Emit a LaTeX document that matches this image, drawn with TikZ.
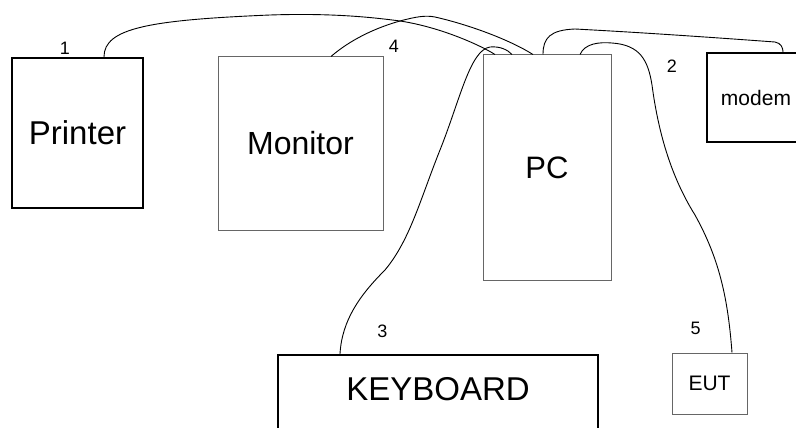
\documentclass[tikz,border=0pt]{standalone}
\usepackage{fontspec}
\setmainfont{Liberation Sans}

\tikzset{
	thickbox/.style={draw=black, line width=2.4pt, inner sep=0pt},
	thinbox/.style={draw=black!60, line width=1pt, inner sep=0pt},
	bigtext/.style={font=\fontsize{33}{38}\selectfont},
	num/.style={font=\fontsize{18}{21}\selectfont, inner sep=0pt},
	cable/.style={draw=black, line width=0.9pt}
}

\begin{document}
\begin{tikzpicture}[x=1pt, y=-1pt]
	\useasboundingbox (0,0) rectangle (796,428);
	\clip (0,0) rectangle (796,428);

	% boxes
	\node[thickbox, bigtext, minimum width=131pt, minimum height=150pt] (printer) at (77.5,133) {Printer};
	\node[thinbox, font=\fontsize{32}{37}\selectfont, minimum width=165pt, minimum height=173pt] (monitor) at (300.5,143.5) {Monitor};
	\node[thinbox, font=\fontsize{31}{36}\selectfont, minimum width=128pt, minimum height=225pt] (pc) at (547,167.5) {PC};
	\node[thickbox, font=\fontsize{21}{25}\selectfont, minimum width=98pt, minimum height=89pt] (modem) at (756,97.5) {modem};
	\node[thickbox, bigtext, text depth=18pt, minimum width=320pt, minimum height=85pt] (kbd) at (438,397.5) {KEYBOARD};
	\node[thinbox, font=\fontsize{21}{25}\selectfont, minimum width=75pt, minimum height=61pt] (eut) at (709.5,383.5) {EUT};

	% cable numbers
	\node[num] (n1) at (65,48.5) {1};
	\node[num] (n2) at (672,66) {2};
	\node[num] (n3) at (382.5,331.5) {3};
	\node[num] (n4) at (394,46.5) {4};
	\node[num] (n5) at (695.5,328.5) {5};

	% cables
	\draw[cable] ([xshift=26.5pt]printer.north) .. controls (104,28) and (150,20) .. (270,15)
		.. controls (330,13) and (370,17) .. (400,21)
		.. controls (440,27) and (480,45) .. ([xshift=-52pt]pc.north);
	\draw[cable] ([xshift=30.5pt]monitor.north) .. controls (350,40) and (375,28) .. (400,21)
		.. controls (415,17) and (425,15) .. (435,17)
		.. controls (470,25) and (510,40) .. ([xshift=-14pt]pc.north);
	\draw[cable] ([xshift=-98pt]kbd.north) .. controls (342,320) and (360,295) .. (385,270)
		.. controls (410,240) and (420,200) .. (440,150)
		.. controls (460,100) and (470,50) .. (490,47)
		.. controls (500,46) and (508,50) .. ([xshift=-35pt]pc.north);
	\draw[cable] ([xshift=-4pt]pc.north) .. controls (543,38) and (550,30) .. (575,29)
		.. controls (650,33) and (720,38) .. (775,42)
		.. controls (781,43) and (783,48) .. ([xshift=27pt]modem.north);
	\draw[cable] ([xshift=33pt]pc.north) .. controls (585,43) and (600,42) .. (612,43)
		.. controls (640,45) and (648,60) .. (652,85)
		.. controls (658,130) and (670,175) .. (695,215)
		.. controls (720,260) and (728,300) .. ([xshift=22.5pt]eut.north);
\end{tikzpicture}
\end{document}
